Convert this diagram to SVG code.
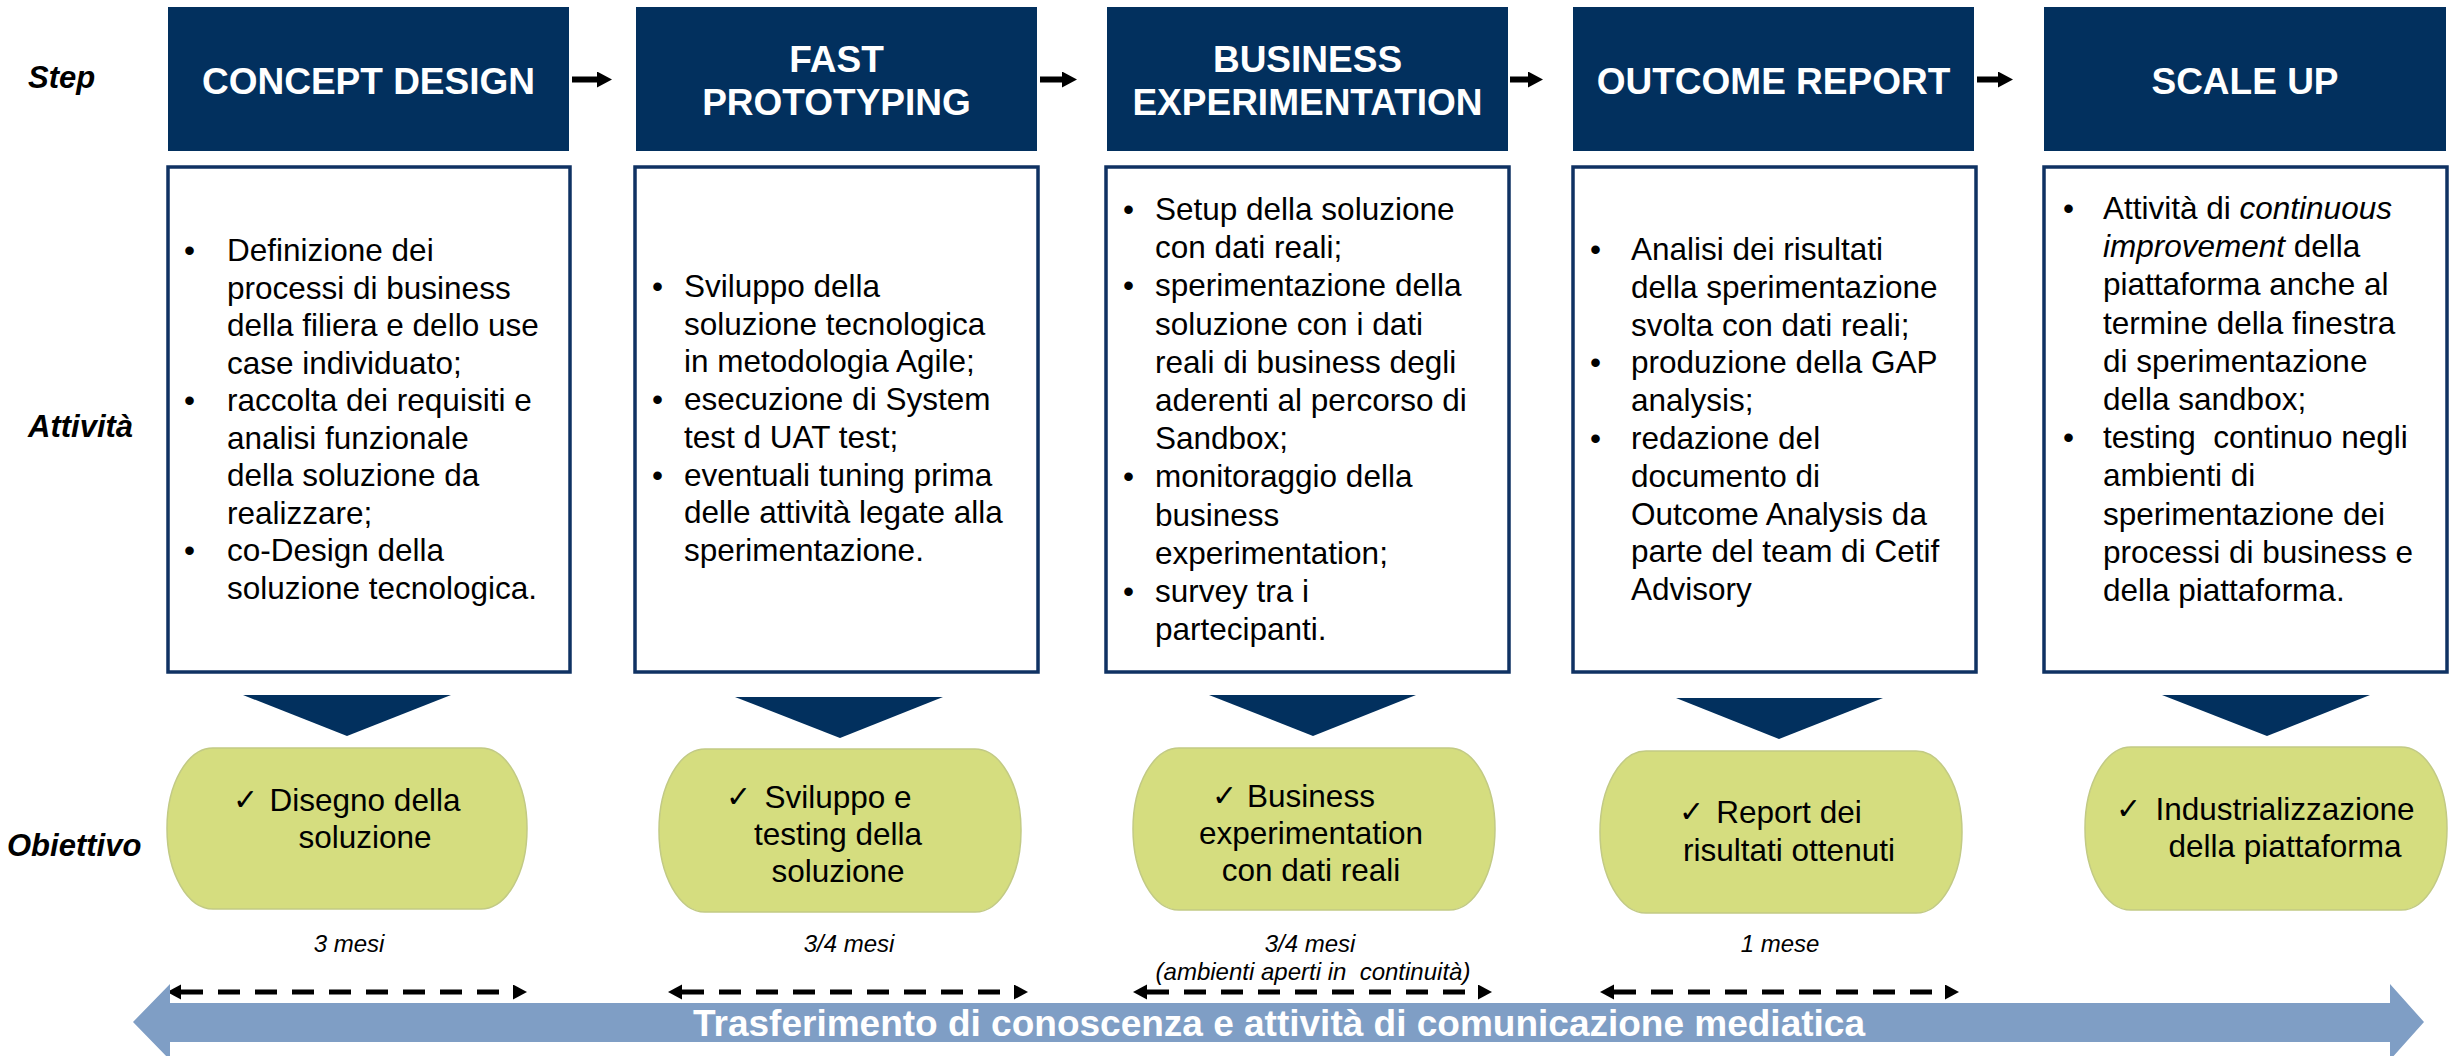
<svg xmlns="http://www.w3.org/2000/svg" width="2458" height="1056" viewBox="0 0 2458 1056">
<style>
text{font-family:"Liberation Sans",Arial,sans-serif}
.lbl{font-size:31px;font-weight:bold;font-style:italic;fill:#000}
.hdr{fill:#02305E}
.ht{font-size:37px;font-weight:bold;fill:#fff;text-anchor:middle}
.box{fill:#fff;stroke:#0F3263;stroke-width:3.5}
.bt{font-size:31.5px;fill:#000}
.pill{fill:#D5DD7F;stroke:#C2CA84;stroke-width:1.5}
.pt{font-size:31.5px;fill:#000;text-anchor:middle}
.ck{font-family:"DejaVu Sans",sans-serif;font-size:30px;fill:#000}
.tri{fill:#02305E}
.dur{font-size:24px;font-style:italic;fill:#000;text-anchor:middle}
.sa{stroke:#000;stroke-width:6;fill:none}
.da{stroke:#000;stroke-width:5;stroke-dasharray:22 15;fill:none}
.big{fill:#7F9EC5}
.bigt{font-size:37px;font-weight:bold;fill:#fff;text-anchor:middle}
</style>
<defs>
<marker id="ah" markerUnits="userSpaceOnUse" markerWidth="16" markerHeight="17" refX="0" refY="8" orient="auto"><path d="M0,0 L15,8 L0,16 Z" fill="#000"/></marker>
<marker id="dh" markerUnits="userSpaceOnUse" markerWidth="15" markerHeight="16" refX="0" refY="7.5" orient="auto-start-reverse"><path d="M0,0 L14,7.5 L0,15 Z" fill="#000"/></marker>
</defs>
<rect width="2458" height="1056" fill="#fff"/>

<g id="labels">
<text class="lbl" x="28" y="88">Step</text>
<text class="lbl" x="28" y="437">Attività</text>
<text class="lbl" x="7" y="856">Obiettivo</text>
</g>

<g id="step-concept-design">
<rect class="hdr" x="168" y="7" width="401" height="144"/>
<text class="ht" x="368.5" y="94">CONCEPT DESIGN</text>
</g>
<g id="step-fast-prototyping">
<rect class="hdr" x="636" y="7" width="401" height="144"/>
<text class="ht" x="836.5" y="72">FAST</text>
<text class="ht" x="836.5" y="115">PROTOTYPING</text>
</g>
<g id="step-business-experimentation">
<rect class="hdr" x="1107" y="7" width="401" height="144"/>
<text class="ht" x="1307.5" y="72">BUSINESS</text>
<text class="ht" x="1307.5" y="115">EXPERIMENTATION</text>
</g>
<g id="step-outcome-report">
<rect class="hdr" x="1573" y="7" width="401" height="144"/>
<text class="ht" x="1773.5" y="94">OUTCOME REPORT</text>
</g>
<g id="step-scale-up">
<rect class="hdr" x="2044" y="7" width="402" height="144"/>
<text class="ht" x="2245" y="94">SCALE UP</text>
</g>

<g id="activity-1">
<rect class="box" x="168" y="167" width="402" height="505"/>
<text class="bt">
<tspan x="184" y="261">•</tspan><tspan x="227" y="261">Definizione dei</tspan>
<tspan x="227" y="298.5">processi di business</tspan>
<tspan x="227" y="336">della filiera e dello use</tspan>
<tspan x="227" y="373.5">case individuato;</tspan>
<tspan x="184" y="411">•</tspan><tspan x="227" y="411">raccolta dei requisiti e</tspan>
<tspan x="227" y="448.5">analisi funzionale</tspan>
<tspan x="227" y="486">della soluzione da</tspan>
<tspan x="227" y="523.5">realizzare;</tspan>
<tspan x="184" y="561">•</tspan><tspan x="227" y="561">co-Design della</tspan>
<tspan x="227" y="598.5">soluzione tecnologica.</tspan>
</text>
</g>
<g id="activity-2">
<rect class="box" x="635" y="167" width="403" height="505"/>
<text class="bt">
<tspan x="652" y="297">•</tspan><tspan x="684" y="297">Sviluppo della</tspan>
<tspan x="684" y="334.7">soluzione tecnologica</tspan>
<tspan x="684" y="372.4">in metodologia Agile;</tspan>
<tspan x="652" y="410.1">•</tspan><tspan x="684" y="410.1">esecuzione di System</tspan>
<tspan x="684" y="447.8">test d UAT test;</tspan>
<tspan x="652" y="485.5">•</tspan><tspan x="684" y="485.5">eventuali tuning prima</tspan>
<tspan x="684" y="523.2">delle attività legate alla</tspan>
<tspan x="684" y="561">sperimentazione.</tspan>
</text>
</g>
<g id="activity-3">
<rect class="box" x="1106" y="167" width="403" height="505"/>
<text class="bt">
<tspan x="1123" y="220">•</tspan><tspan x="1155" y="220">Setup della soluzione</tspan>
<tspan x="1155" y="258.2">con dati reali;</tspan>
<tspan x="1123" y="296.4">•</tspan><tspan x="1155" y="296.4">sperimentazione della</tspan>
<tspan x="1155" y="334.6">soluzione con i dati</tspan>
<tspan x="1155" y="372.8">reali di business degli</tspan>
<tspan x="1155" y="411">aderenti al percorso di</tspan>
<tspan x="1155" y="449.2">Sandbox;</tspan>
<tspan x="1123" y="487.4">•</tspan><tspan x="1155" y="487.4">monitoraggio della</tspan>
<tspan x="1155" y="525.6">business</tspan>
<tspan x="1155" y="563.8">experimentation;</tspan>
<tspan x="1123" y="602">•</tspan><tspan x="1155" y="602">survey tra i</tspan>
<tspan x="1155" y="640.2">partecipanti.</tspan>
</text>
</g>
<g id="activity-4">
<rect class="box" x="1573" y="167" width="403" height="505"/>
<text class="bt">
<tspan x="1590" y="260">•</tspan><tspan x="1631" y="260">Analisi dei risultati</tspan>
<tspan x="1631" y="297.8">della sperimentazione</tspan>
<tspan x="1631" y="335.6">svolta con dati reali;</tspan>
<tspan x="1590" y="373.4">•</tspan><tspan x="1631" y="373.4">produzione della GAP</tspan>
<tspan x="1631" y="411.2">analysis;</tspan>
<tspan x="1590" y="449">•</tspan><tspan x="1631" y="449">redazione del</tspan>
<tspan x="1631" y="486.8">documento di</tspan>
<tspan x="1631" y="524.6">Outcome Analysis da</tspan>
<tspan x="1631" y="562.4">parte del team di Cetif</tspan>
<tspan x="1631" y="600.2">Advisory</tspan>
</text>
</g>
<g id="activity-5">
<rect class="box" x="2044" y="167" width="403" height="505"/>
<text class="bt" xml:space="preserve"><tspan x="2063" y="219">•</tspan><tspan x="2103" y="219">Attività di <tspan font-style="italic">continuous</tspan></tspan><tspan x="2103" y="257.2"><tspan font-style="italic">improvement</tspan> della</tspan><tspan x="2103" y="295.4">piattaforma anche al</tspan><tspan x="2103" y="333.6">termine della finestra</tspan><tspan x="2103" y="371.8">di sperimentazione</tspan><tspan x="2103" y="410">della sandbox;</tspan><tspan x="2063" y="448.2">•</tspan><tspan x="2103" y="448.2">testing  continuo negli</tspan><tspan x="2103" y="486.4">ambienti di</tspan><tspan x="2103" y="524.6">sperimentazione dei</tspan><tspan x="2103" y="562.8">processi di business e</tspan><tspan x="2103" y="601">della piattaforma.</tspan></text>
</g>

<g id="pointers">
<polygon class="tri" points="243,695 451,695 347,736"/>
<polygon class="tri" points="735,697 943,697 840,738"/>
<polygon class="tri" points="1209,695 1416,695 1313,736"/>
<polygon class="tri" points="1676,698 1883,698 1779,739"/>
<polygon class="tri" points="2162,695 2370,695 2267,736"/>
</g>

<g id="goal-1">
<rect class="pill" x="167" y="748" width="360" height="161" rx="46" ry="80"/>
<text class="ck" x="233" y="810">✓</text>
<text class="pt"><tspan x="365" y="811">Disegno della</tspan><tspan x="365" y="848">soluzione</tspan></text>
</g>
<g id="goal-2">
<rect class="pill" x="659" y="749" width="362" height="163" rx="46" ry="81"/>
<text class="ck" x="726" y="807">✓</text>
<text class="pt"><tspan x="838" y="808">Sviluppo e</tspan><tspan x="838" y="845">testing della</tspan><tspan x="838" y="882">soluzione</tspan></text>
</g>
<g id="goal-3">
<rect class="pill" x="1133" y="748" width="362" height="162" rx="46" ry="81"/>
<text class="ck" x="1212" y="806">✓</text>
<text class="pt"><tspan x="1311" y="807">Business</tspan><tspan x="1311" y="844">experimentation</tspan><tspan x="1311" y="881">con dati reali</tspan></text>
</g>
<g id="goal-4">
<rect class="pill" x="1600" y="751" width="362" height="162" rx="46" ry="81"/>
<text class="ck" x="1679" y="822">✓</text>
<text class="pt"><tspan x="1789" y="823">Report dei</tspan><tspan x="1789" y="861">risultati ottenuti</tspan></text>
</g>
<g id="goal-5">
<rect class="pill" x="2085" y="747" width="362" height="163" rx="46" ry="81"/>
<text class="ck" x="2116" y="819">✓</text>
<text class="pt"><tspan x="2285" y="820">Industrializzazione</tspan><tspan x="2285" y="857">della piattaforma</tspan></text>
</g>

<g id="durations">
<text class="dur" x="349" y="952">3 mesi</text>
<text class="dur" x="849" y="952">3/4 mesi</text>
<text class="dur" x="1310" y="952">3/4 mesi</text>
<text class="dur" x="1313" y="980" xml:space="preserve">(ambienti aperti in  continuità)</text>
<text class="dur" x="1780" y="952">1 mese</text>
</g>

<g id="connectors">
<line class="sa" x1="572" y1="79.5" x2="597" y2="79.5" marker-end="url(#ah)"/>
<line class="sa" x1="1040" y1="79.5" x2="1062" y2="79.5" marker-end="url(#ah)"/>
<line class="sa" x1="1510" y1="79.5" x2="1528" y2="79.5" marker-end="url(#ah)"/>
<line class="sa" x1="1977" y1="79.5" x2="1998" y2="79.5" marker-end="url(#ah)"/>
<line class="da" x1="181" y1="992" x2="513" y2="992" marker-start="url(#dh)" marker-end="url(#dh)"/>
<line class="da" x1="682" y1="992" x2="1014" y2="992" marker-start="url(#dh)" marker-end="url(#dh)"/>
<line class="da" x1="1147" y1="992" x2="1478" y2="992" marker-start="url(#dh)" marker-end="url(#dh)"/>
<line class="da" x1="1614" y1="992" x2="1945" y2="992" marker-start="url(#dh)" marker-end="url(#dh)"/>
</g>

<g id="knowledge-transfer">
<path class="big" d="M133,1022 L170,984 L170,1003 L2390,1003 L2390,984 L2424,1022 L2390,1060 L2390,1042 L170,1042 L170,1060 Z"/>
<text class="bigt" x="1279" y="1036">Trasferimento di conoscenza e attività di comunicazione mediatica</text>
</g>
</svg>
